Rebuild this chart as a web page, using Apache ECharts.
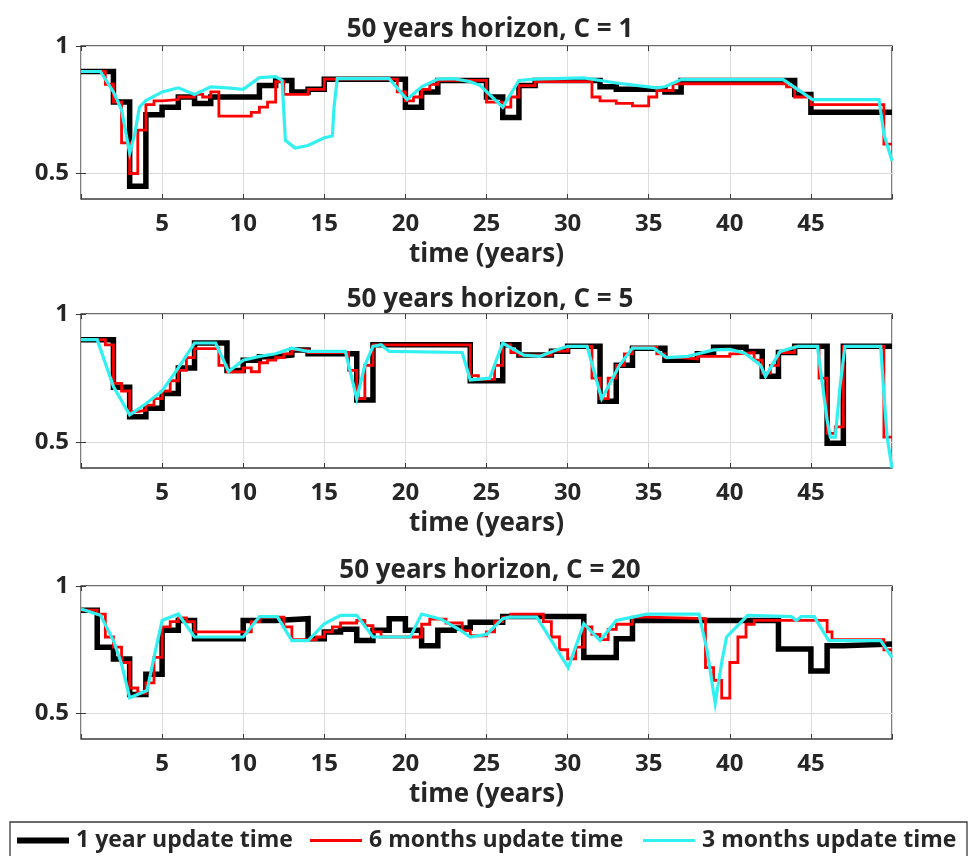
<!DOCTYPE html>
<html>
<head>
<meta charset="utf-8">
<script src="https://cdn.jsdelivr.net/npm/echarts@6/dist/echarts.min.js"></script>
<style>html,body{margin:0;padding:0;background:#fff}#c{width:969px;height:856px}</style>
</head>
<body>
<div id="c"></div>
<script>
const titles = ['50 years horizon, C = 1', '50 years horizon, C = 5', '50 years horizon, C = 20'];
const seriesNames = ['1 year update time', '6 months update time', '3 months update time'];
const xTicks = [5, 10, 15, 20, 25, 30, 35, 40, 45];
const yTicks = [0.5, 1];

// C = 1
const black1 = [[0,0.90],[2,0.78],[3,0.45],[4,0.73],[5,0.76],[6,0.80],[7,0.775],[8,0.80],[11,0.845],[12,0.865],[13,0.82],[14,0.83],[15,0.87],[20,0.76],[21,0.82],[22,0.865],[25,0.80],[26,0.72],[27,0.845],[28,0.865],[32,0.84],[33,0.83],[36,0.82],[37,0.865],[44,0.81],[45,0.74],[50,0.74]];
const red1 = [[0,0.90],[1.5,0.85],[2,0.78],[2.5,0.62],[3,0.50],[3.5,0.67],[4,0.77],[4.5,0.785],[5,0.79],[6,0.80],[7,0.81],[7.5,0.80],[8,0.82],[8.5,0.725],[10.5,0.74],[11,0.76],[11.5,0.78],[12,0.86],[12.5,0.81],[14,0.83],[15,0.87],[19.5,0.82],[20,0.785],[20.5,0.80],[21,0.83],[21.5,0.85],[22,0.865],[25,0.78],[26,0.76],[26.5,0.80],[27,0.845],[28,0.86],[31.5,0.80],[32,0.785],[33,0.775],[34,0.765],[35,0.80],[35.5,0.825],[36.5,0.852],[43.5,0.84],[44,0.80],[45,0.77],[49.5,0.615],[50,0.615]];
const cyan1 = [[0,0.90],[1.2,0.90],[2,0.82],[2.5,0.75],[3,0.58],[3.3,0.65],[3.6,0.76],[4,0.786],[5,0.82],[6,0.836],[7,0.81],[8,0.84],[9,0.836],[10,0.83],[11,0.876],[12,0.88],[12.4,0.865],[12.6,0.63],[13.2,0.60],[14,0.61],[15,0.64],[15.5,0.647],[15.6,0.76],[15.8,0.872],[19,0.872],[20.1,0.79],[21,0.84],[22,0.87],[23,0.872],[24,0.86],[24.6,0.846],[26,0.76],[27,0.865],[28,0.87],[31,0.875],[33,0.855],[35.5,0.836],[36,0.84],[37,0.868],[43.3,0.868],[45.1,0.79],[49.2,0.79],[49.5,0.654],[50,0.55]];

// C = 5
const black2 = [[0,0.90],[2,0.715],[3,0.60],[4,0.633],[5,0.69],[6,0.79],[7,0.887],[9,0.78],[10,0.82],[11,0.833],[12,0.84],[13,0.86],[14,0.845],[17,0.665],[18,0.88],[24,0.74],[26,0.88],[27,0.84],[29,0.855],[30,0.874],[32,0.66],[33,0.80],[34,0.867],[36,0.82],[38,0.845],[39,0.87],[41,0.854],[42,0.757],[43,0.85],[44,0.874],[46,0.496],[47,0.874],[50,0.874]];
const red2 = [[0,0.90],[1.5,0.88],[2,0.73],[2.5,0.70],[3,0.62],[3.5,0.625],[4,0.645],[4.5,0.67],[5,0.70],[5.5,0.74],[6,0.78],[6.5,0.83],[7,0.865],[8.5,0.80],[9,0.775],[10,0.79],[10.5,0.775],[11,0.81],[11.5,0.82],[12,0.83],[12.5,0.845],[13,0.86],[14,0.85],[16.5,0.78],[17,0.67],[17.5,0.80],[18,0.88],[24,0.76],[24.5,0.745],[25.5,0.80],[26,0.88],[26.5,0.85],[27,0.84],[29,0.855],[30,0.874],[31.5,0.75],[32,0.67],[32.5,0.75],[33,0.80],[33.5,0.845],[34,0.87],[35.5,0.845],[36,0.83],[37,0.825],[38,0.835],[40,0.845],[40.5,0.85],[41.5,0.82],[42,0.77],[42.5,0.80],[43,0.85],[44,0.874],[45.5,0.75],[46,0.535],[46.5,0.56],[47,0.874],[49.5,0.52],[50,0.52]];
const cyan2 = [[0,0.90],[1.0,0.90],[2,0.717],[3,0.607],[4,0.65],[5,0.70],[6,0.79],[7,0.887],[8.3,0.887],[9.1,0.776],[10,0.82],[11,0.835],[12,0.845],[13,0.867],[14,0.854],[16.3,0.854],[17,0.67],[17.5,0.80],[18,0.874],[18.5,0.88],[19,0.854],[23.5,0.85],[24,0.743],[25.2,0.75],[26,0.887],[27.3,0.84],[28.3,0.835],[29.3,0.86],[30,0.874],[31.2,0.874],[32.1,0.67],[33.2,0.80],[34,0.867],[35.3,0.867],[36.1,0.83],[37.4,0.835],[39,0.86],[40,0.862],[40.9,0.848],[41.9,0.80],[42.2,0.757],[43.1,0.854],[44.2,0.874],[45.4,0.874],[46,0.587],[46.2,0.52],[46.5,0.52],[46.8,0.72],[47.1,0.874],[49.3,0.874],[49.5,0.69],[49.7,0.52],[50,0.40]];

// C = 20
const black3 = [[0,0.905],[1,0.76],[2,0.714],[3,0.575],[4,0.654],[5,0.826],[6,0.865],[7,0.793],[10,0.865],[12,0.872],[14,0.793],[15,0.82],[16,0.83],[17,0.786],[18,0.826],[19,0.872],[20,0.826],[21,0.766],[22,0.826],[23,0.835],[24,0.858],[26,0.88],[31,0.72],[33,0.793],[34,0.865],[43,0.753],[45,0.667],[46,0.766],[47,0.773],[50,0.773]];
const red3 = [[0,0.905],[1,0.89],[1.5,0.80],[2,0.76],[2.5,0.70],[3,0.60],[3.5,0.58],[4,0.62],[4.5,0.72],[5,0.84],[5.5,0.86],[6,0.875],[6.5,0.86],[7,0.82],[10,0.82],[10.5,0.86],[11,0.878],[12.5,0.84],[13,0.79],[14.5,0.80],[15,0.82],[15.5,0.84],[16,0.855],[17,0.865],[17.5,0.845],[18,0.82],[18.5,0.80],[21,0.85],[21.5,0.87],[22.5,0.855],[23.5,0.825],[24,0.805],[25,0.82],[25.5,0.86],[26,0.878],[26.5,0.89],[28.5,0.86],[29,0.80],[29.5,0.75],[30,0.714],[30.5,0.76],[31,0.84],[31.5,0.81],[32,0.79],[32.5,0.83],[33,0.85],[34,0.878],[35,0.872],[38.5,0.68],[39,0.63],[39.5,0.56],[40,0.70],[40.5,0.80],[41,0.85],[41.5,0.865],[46,0.82],[46.3,0.79],[49.5,0.75],[50,0.75]];
const cyan3 = [[0,0.91],[1.2,0.885],[2,0.786],[2.5,0.694],[3,0.562],[4.07,0.59],[4.5,0.72],[5,0.865],[6,0.89],[7,0.80],[10,0.80],[11,0.88],[12.1,0.88],[13,0.786],[14,0.786],[15,0.852],[16,0.885],[17,0.885],[18,0.80],[20.3,0.80],[21,0.89],[22.2,0.87],[23.4,0.826],[24,0.80],[25,0.81],[26,0.872],[26.4,0.878],[28.1,0.878],[30.04,0.68],[31,0.852],[32,0.786],[33,0.865],[34,0.878],[34.9,0.89],[38.1,0.89],[38.6,0.747],[39.1,0.54],[39.5,0.70],[39.8,0.80],[41.1,0.885],[43.8,0.88],[44.1,0.865],[44.4,0.88],[45.2,0.88],[46.1,0.786],[49.3,0.786],[50,0.72]];

const plots = [[black1, red1, cyan1], [black2, red2, cyan2], [black3, red3, cyan3]];

const FONT = '"Open Sans"';
const TXT = '#262626';
const gridTops = [46, 314, 586];
const gridH = [153, 154, 153];
const titleTops = [12, 282, 553];
const styles = [
  {color: '#000000', width: 5.5, step: 'end'},
  {color: '#ff0000', width: 2.8, step: 'end'},
  {color: '#33f0f0', width: 3.2, step: false}
];

const chart = echarts.init(document.getElementById('c'), null, {renderer: 'canvas'});
const grid = [], xAxis = [], yAxis = [], series = [], title = [];
plots.forEach((p, i) => {
  grid.push({left: 81, width: 811, top: gridTops[i], height: gridH[i], show: true, borderColor: '#3a3a3a', borderWidth: 1.3, backgroundColor: 'transparent', containLabel: false});
  title.push({text: titles[i], left: 485, top: titleTops[i], textAlign: 'center',
    textStyle: {fontFamily: FONT, fontWeight: 'bold', fontSize: 26, color: TXT}});
  xAxis.push({type: 'value', gridIndex: i, min: 0, max: 50, interval: 5, position: 'bottom',
    name: 'time (years)', nameLocation: 'middle', nameGap: 43,
    nameTextStyle: {fontFamily: FONT, fontWeight: 'bold', fontSize: 26, color: TXT},
    axisLine: {show: false},
    axisTick: {show: true, inside: true, length: 5, lineStyle: {color: '#3a3a3a', width: 1}},
    axisLabel: {margin: 13, fontFamily: FONT, fontWeight: 'bold', fontSize: 24, color: TXT,
      formatter: v => xTicks.indexOf(v) >= 0 ? String(v) : ''},
    splitLine: {show: true, lineStyle: {color: '#dcdcdc', width: 1}}});
  xAxis.push({type: 'value', gridIndex: i, min: 0, max: 50, interval: 5, position: 'top',
    axisLine: {show: false}, axisLabel: {show: false}, splitLine: {show: false},
    axisTick: {show: true, inside: true, length: 5, lineStyle: {color: '#3a3a3a', width: 1}}});
  yAxis.push({type: 'value', gridIndex: i, min: 0.4, max: 1, position: 'left',
    axisLine: {show: false},
    axisTick: {show: true, inside: true, length: 5, customValues: yTicks, lineStyle: {color: '#3a3a3a', width: 1}},
    axisLabel: {margin: 12, customValues: yTicks, fontFamily: FONT, fontWeight: 'bold', fontSize: 24, color: TXT,
      formatter: v => String(v)},
    splitLine: {show: true, lineStyle: {color: '#dcdcdc', width: 1}}});
  yAxis.push({type: 'value', gridIndex: i, min: 0.4, max: 1, position: 'right',
    axisLine: {show: false}, axisLabel: {show: false}, splitLine: {show: false},
    axisTick: {show: true, inside: true, length: 5, customValues: yTicks, lineStyle: {color: '#3a3a3a', width: 1}}});
  p.forEach((d, k) => {
    series.push({type: 'line', name: seriesNames[k], xAxisIndex: 2 * i, yAxisIndex: 2 * i,
      data: d, step: styles[k].step, showSymbol: false, symbol: 'none', animation: false,
      color: styles[k].color,
      lineStyle: {color: styles[k].color, width: styles[k].width, join: 'miter'},
      z: 2 + k});
  });
});

const legendLefts = [17, 310, 643];
const legendThick = [6, 3, 3];
const legend = seriesNames.map((n, k) => ({
  data: [{name: n, icon: 'rect', itemStyle: {color: styles[k].color}}],
  left: legendLefts[k], top: 829, itemWidth: 52, itemHeight: legendThick[k], padding: 0,
  selectedMode: false,
  textStyle: {fontFamily: FONT, fontWeight: 'bold', fontSize: 23, color: TXT, padding: [0, 0, 0, 2]}
}));

chart.setOption({
  animation: false,
  title, grid, xAxis, yAxis, series, legend,
  graphic: [{type: 'rect', shape: {x: 10, y: 822, width: 957, height: 42}, style: {fill: 'none', stroke: '#3a3a3a', lineWidth: 1.3}, silent: true}]
});
</script>
</body>
</html>
